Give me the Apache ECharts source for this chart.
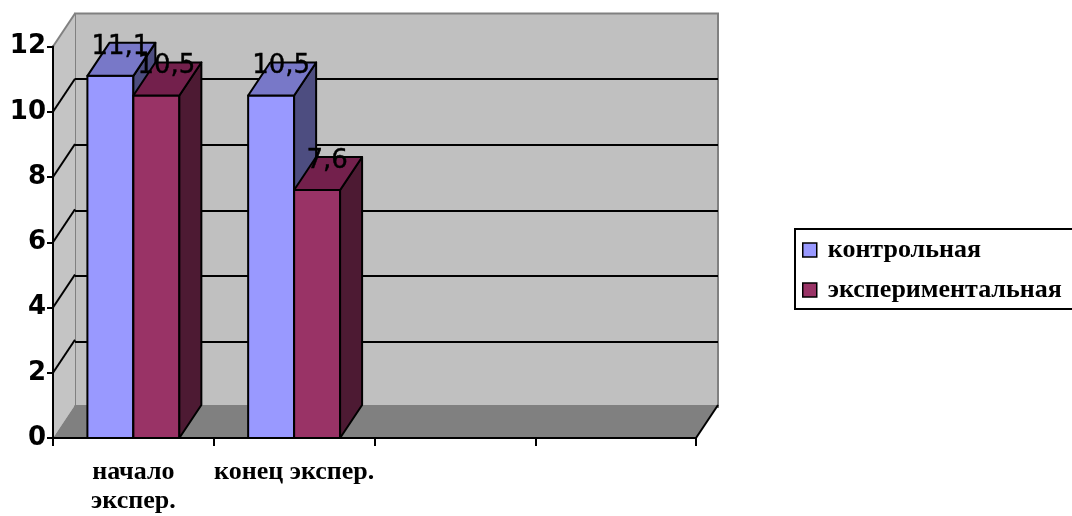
<!DOCTYPE html>
<html>
<head>
<meta charset="utf-8">
<script src="https://cdn.jsdelivr.net/npm/echarts@6/dist/echarts.min.js"></script>
<style>
html,body{margin:0;padding:0;background:#fff;}
#chart{width:1072px;height:516px;}
</style>
</head>
<body>
<div id="chart"></div>
<script>
// ---- data ----
const categories = ['начало экспер.', 'конец экспер.', '', ''];
const seriesNames = ['контрольная', 'экспериментальная'];
const control = [11.1, 10.5];
const experimental = [10.5, 7.6];
const yMin = 0, yMax = 12, yInterval = 2;

// ---- style / layout ----
const DX = 22, DY = -33;
const BAR_FRAC = 0.286;
const frontColors = ['#9999ff', '#993366'];
const topColors = ['#7878c8', '#73204c'];
const sideColors = ['#4d4d80', '#4d1a33'];
const FRONT = {left: 53, top: 46.5, width: 643, height: 393.5};

function fmt(v){ return v.toFixed(1).replace('.', ','); }

function barRender(si){
  return function(params, api){
    const ci = api.value(0), v = api.value(1);
    const base = api.coord([ci, 0]);
    const top = api.coord([ci, v]);
    const band = api.size([1, 0])[0];
    const w = band * BAR_FRAC;
    const xl = base[0] + (si === 0 ? -w : 0);
    const xr = xl + w;
    const yb = base[1], yt = top[1];
    const st = {stroke: '#000', lineWidth: 2, lineJoin: 'round'};
    return {
      type: 'group',
      children: [
        {type: 'polygon', shape: {points: [[xl, yb], [xl, yt], [xr, yt], [xr, yb]]},
          style: Object.assign({fill: frontColors[si]}, st)},
        {type: 'polygon', shape: {points: [[xr, yb], [xr, yt], [xr + DX, yt + DY], [xr + DX, yb + DY]]},
          style: Object.assign({fill: sideColors[si]}, st)},
        {type: 'polygon', shape: {points: [[xl, yt], [xr, yt], [xr + DX, yt + DY], [xl + DX, yt + DY]]},
          style: Object.assign({fill: topColors[si]}, st)},
        {type: 'text', z2: 100, style: {
          text: fmt(v), x: (xl + xr) / 2 + DX / 2 - 1, y: yt + DY + 4,
          align: 'center', verticalAlign: 'middle',
          font: 'normal 26px "DejaVu Sans"', fill: '#000', stroke: '#000', lineWidth: 0.4}}
      ]
    };
  };
}

function wallRender(params, api){
  const cs = params.coordSys;
  const x0 = cs.x, x1 = cs.x + cs.width, yt = cs.y, yb = cs.y + cs.height;
  const children = [];
  // left wall
  children.push({type: 'polygon', shape: {points: [[x0, yb], [x0, yt], [x0 + DX, yt + DY], [x0 + DX, yb + DY]]},
    style: {fill: '#c4c4c4', stroke: null}});
  children.push({type: 'line', shape: {x1: x0, y1: yt, x2: x0 + DX, y2: yt + DY},
    style: {stroke: '#808080', lineWidth: 2}});
  // floor
  children.push({type: 'polygon', shape: {points: [[x0, yb], [x1, yb], [x1 + DX, yb + DY], [x0 + DX, yb + DY]]},
    style: {fill: '#808080', stroke: null}});
  children.push({type: 'line', shape: {x1: x1, y1: yb, x2: x1 + DX, y2: yb + DY},
    style: {stroke: '#000', lineWidth: 2}});
  // left-wall grid diagonals
  for (let v = yMin + yInterval; v < yMax; v += yInterval){
    const y = api.coord([0, v])[1];
    children.push({type: 'line', shape: {x1: x0, y1: y, x2: x0 + DX, y2: y + DY},
      style: {stroke: '#000', lineWidth: 2}});
  }
  return {type: 'group', children: children};
}

const chart = echarts.init(document.getElementById('chart'), null, {renderer: 'canvas'});
const option = {
  animation: false,
  backgroundColor: '#fff',
  grid: [
    {left: FRONT.left + DX, top: FRONT.top + DY, width: FRONT.width, height: FRONT.height,
      show: true, backgroundColor: '#c0c0c0', borderColor: '#808080', borderWidth: 2},
    {left: FRONT.left, top: FRONT.top, width: FRONT.width, height: FRONT.height}
  ],
  xAxis: [
    {gridIndex: 0, type: 'category', data: categories, show: false},
    {gridIndex: 1, type: 'category', data: categories, z: 3,
      axisLine: {lineStyle: {color: '#000', width: 2}},
      axisTick: {show: true, length: 8, lineStyle: {color: '#000', width: 2}},
      axisLabel: {interval: 0, margin: 20, color: '#000', fontFamily: 'Liberation Serif',
        fontWeight: 'bold', fontSize: 26, lineHeight: 29,
        formatter: (v, i) => i === 0 ? v.replace(' ', '\n') : v}}
  ],
  yAxis: [
    {gridIndex: 0, type: 'value', min: yMin, max: yMax, interval: yInterval,
      axisLine: {show: false}, axisTick: {show: false}, axisLabel: {show: false},
      splitLine: {show: true, showMinLine: false, showMaxLine: false, lineStyle: {color: '#000', width: 2}}},
    {gridIndex: 1, type: 'value', min: yMin, max: yMax, interval: yInterval, z: 3,
      axisLine: {show: true, lineStyle: {color: '#000', width: 2}},
      axisTick: {show: true, length: 6, lineStyle: {color: '#000', width: 2}},
      splitLine: {show: false},
      axisLabel: {margin: 7, color: '#000', fontFamily: 'DejaVu Sans', fontWeight: 'bold', fontSize: 26}}
  ],
  legend: {
    orient: 'vertical', left: 795, top: 229, icon: 'rect',
    itemWidth: 14, itemHeight: 14, itemGap: 14,
    padding: [8, 20, 6, 7],
    borderColor: '#000', borderWidth: 2,
    itemStyle: {borderColor: '#000', borderWidth: 1.5},
    textStyle: {color: '#000', fontFamily: 'Liberation Serif', fontWeight: 'bold', fontSize: 26, padding: [0, 0, 0, 6]},
    data: seriesNames
  },
  series: [
    {type: 'custom', name: '_walls', xAxisIndex: 1, yAxisIndex: 1, z: 1, silent: true,
      renderItem: wallRender, data: [[0, 0]]},
    {type: 'custom', name: seriesNames[0], xAxisIndex: 1, yAxisIndex: 1, z: 2,
      itemStyle: {color: frontColors[0]},
      renderItem: barRender(0), data: control.map((v, i) => [i, v])},
    {type: 'custom', name: seriesNames[1], xAxisIndex: 1, yAxisIndex: 1, z: 2,
      itemStyle: {color: frontColors[1]},
      renderItem: barRender(1), data: experimental.map((v, i) => [i, v])}
  ]
};
chart.setOption(option);
</script>
</body>
</html>
